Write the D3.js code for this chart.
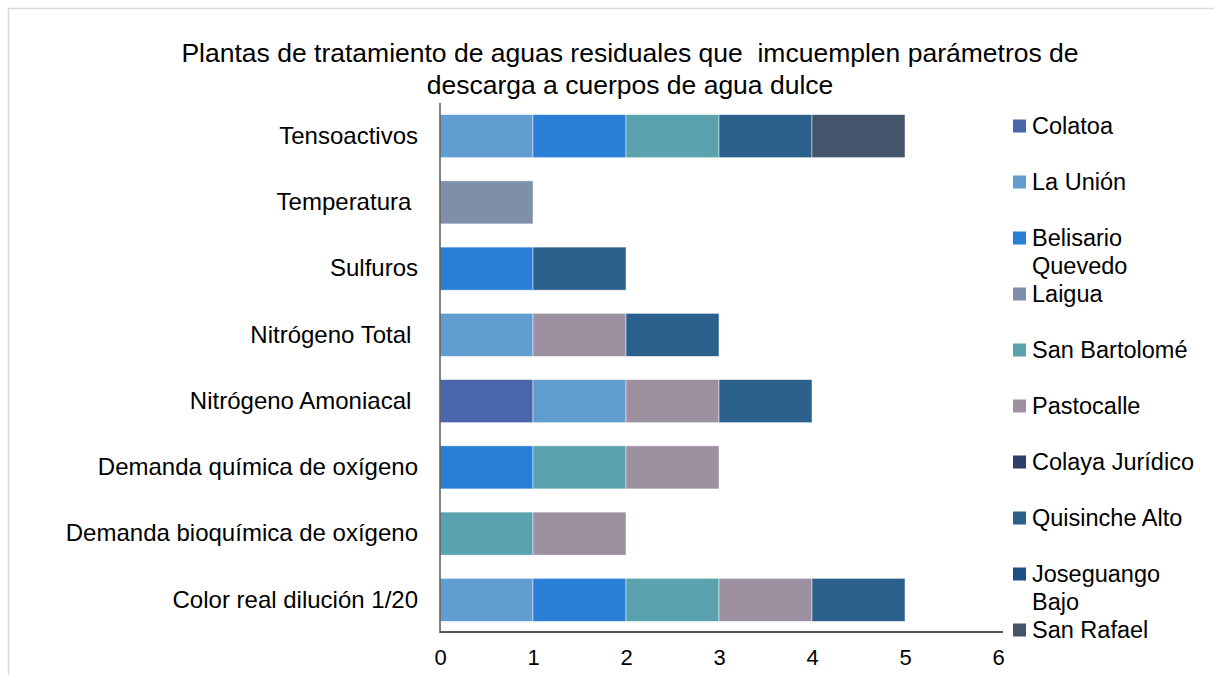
<!DOCTYPE html>
<html lang="es">
<head>
<meta charset="UTF-8">
<title>Plantas de tratamiento</title>
<script src="https://cdn.jsdelivr.net/npm/d3@7"></script>
<style>
  body { margin: 0; background: #fff; }
  text { font-family: "Liberation Sans", Arial, sans-serif; fill: #000; }
</style>
</head>
<body>
<div id="chart"></div>
<script>
// categorias (de arriba hacia abajo)
var categories = [
  "Tensoactivos",
  "Temperatura ",
  "Sulfuros",
  "Nitrógeno Total ",
  "Nitrógeno Amoniacal ",
  "Demanda química de oxígeno",
  "Demanda bioquímica de oxígeno",
  "Color real dilución 1/20"
];

// plantas (series) y sus valores por categoria
var plants = ["Colatoa", "La Unión", "Belisario Quevedo", "Laigua", "San Bartolomé",
              "Pastocalle", "Colaya Jurídico", "Quisinche Alto", "Joseguango Bajo", "San Rafael"];

var colatoa          = [0, 0, 0, 0, 1, 0, 0, 0];
var laUnion          = [1, 0, 0, 1, 1, 0, 0, 1];
var belisarioQuevedo = [1, 0, 1, 0, 0, 1, 0, 1];
var laigua           = [0, 1, 0, 0, 0, 0, 0, 0];
var sanBartolome     = [1, 0, 0, 0, 0, 1, 1, 1];
var pastocalle       = [0, 0, 0, 1, 1, 1, 1, 1];
var colayaJuridico   = [0, 0, 0, 0, 0, 0, 0, 0];
var quisincheAlto    = [1, 0, 1, 1, 1, 0, 0, 1];
var joseguangoBajo   = [0, 0, 0, 0, 0, 0, 0, 0];
var sanRafael        = [1, 0, 0, 0, 0, 0, 0, 0];

var xTicks = [0, 1, 2, 3, 4, 5, 6];

var colors = ["#4a66ac", "#629dd1", "#297fd5", "#7f8fa9", "#5aa2ae",
              "#9d90a0", "#2e3d6a", "#2b5f8c", "#1f4e85", "#44546a"];

var seriesValues = [colatoa, laUnion, belisarioQuevedo, laigua, sanBartolome,
                    pastocalle, colayaJuridico, quisincheAlto, joseguangoBajo, sanRafael];

// tabla para d3.stack
var table = categories.map(function(c, i) {
  var row = { cat: c };
  plants.forEach(function(p, j) { row[p] = seriesValues[j][i]; });
  return row;
});

var width = 1214, height = 675;

var svg = d3.select("#chart").append("svg")
  .attr("width", width)
  .attr("height", height);

// marco del grafico
svg.append("rect")
  .attr("x", 8.5).attr("y", 8.5)
  .attr("width", 1220).attr("height", 700)
  .attr("fill", "none")
  .attr("stroke", "#d9d9d9")
  .attr("stroke-width", 1.5);

// titulo
var title = svg.append("text")
  .attr("text-anchor", "middle")
  .style("font-size", "26.5px")
  .style("white-space", "pre");
title.append("tspan").attr("x", 630).attr("y", 62)
  .text("Plantas de tratamiento de aguas residuales que  imcuemplen parámetros de");
title.append("tspan").attr("x", 630).attr("y", 94)
  .text("descarga a cuerpos de agua dulce");

var x = d3.scaleLinear().domain([0, 6]).range([440, 998]);
var y = d3.scaleBand().domain(categories).range([103, 633]).paddingInner(0.35).paddingOuter(0.175);

var stack = d3.stack().keys(plants);
var layers = stack(table);

svg.append("g").selectAll("g")
  .data(layers)
  .join("g")
  .attr("fill", function(d, i) { return colors[i]; })
  .selectAll("rect")
  .data(function(d) { return d.filter(function(s) { return s[1] - s[0] > 0; }); })
  .join("rect")
  .attr("x", function(d) { return x(d[0]); })
  .attr("y", function(d) { return y(d.data.cat); })
  .attr("width", function(d) { return x(d[1]) - x(d[0]); })
  .attr("height", y.bandwidth())
  .attr("stroke", "#ffffff")
  .attr("stroke-opacity", 0.6)
  .attr("stroke-width", 0.8);

// eje y
var yAxis = svg.append("g")
  .attr("transform", "translate(440,0)")
  .call(d3.axisLeft(y).tickSize(0).tickPadding(22));
yAxis.select(".domain").attr("stroke", "#595959").attr("stroke-width", 1.5).attr("d", "M0,103V633");
yAxis.selectAll("text")
  .style("font-size", "24px")
  .style("font-family", "Liberation Sans, Arial, sans-serif")
  .style("white-space", "pre");

// eje x
var xAxis = svg.append("g")
  .attr("transform", "translate(0,632)")
  .call(d3.axisBottom(x).tickValues(xTicks).tickSize(0).tickPadding(17).tickFormat(d3.format("d")));
xAxis.select(".domain").attr("stroke", "#595959").attr("stroke-width", 2).attr("d", "M440,0H1003");
xAxis.selectAll("text")
  .style("font-size", "22px")
  .style("font-family", "Liberation Sans, Arial, sans-serif")
  .attr("dy", "0.71em");

// leyenda
var legend = svg.append("g");
var item = legend.selectAll("g")
  .data(plants)
  .join("g")
  .attr("transform", function(d, i) { return "translate(1013," + (126 + i * 56) + ")"; });

item.append("rect")
  .attr("x", 0).attr("y", -6.5)
  .attr("width", 13).attr("height", 13)
  .attr("fill", function(d, i) { return colors[i]; });

item.append("text")
  .attr("x", 19)
  .attr("y", 0)
  .style("font-size", "23.5px")
  .each(function(d) {
    var t = d3.select(this);
    var words = d === "Belisario Quevedo" ? ["Belisario", "Quevedo"]
              : d === "Joseguango Bajo" ? ["Joseguango", "Bajo"] : [d];
    words.forEach(function(w, k) {
      t.append("tspan").attr("x", 19).attr("dy", k === 0 ? "0.35em" : "28").text(w);
    });
  });
</script>
</body>
</html>
